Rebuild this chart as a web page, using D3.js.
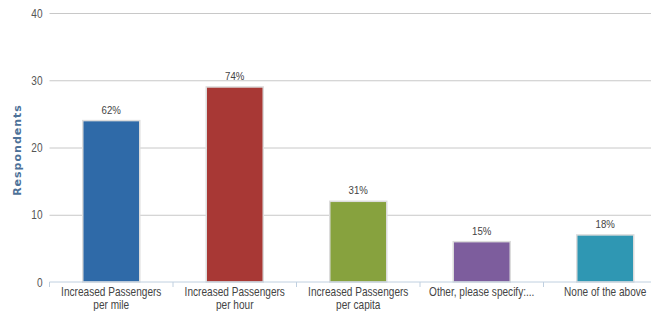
<!DOCTYPE html>
<html><head><meta charset="utf-8">
<script src="https://cdn.jsdelivr.net/npm/d3@7"></script>
<style>body{margin:0;background:#fff;overflow:hidden}svg{display:block}</style>
</head><body><svg id="c" width="651" height="311"></svg>
<script>
const categories = [["Increased Passengers","per mile"],["Increased Passengers","per hour"],["Increased Passengers","per capita"],["Other, please specify:..."],["None of the above"]];
const values = [24, 29, 12, 6, 7];
const percentLabels = ["62%","74%","31%","15%","18%"];
const colors = ["#2f6aa8","#a83835","#87a23e","#7d5d9d","#2f97b3"];
const yTicks = [0,10,20,30,40];

(function(){
const svg = d3.select("#c");
const font = "'Liberation Sans',Arial,sans-serif";
const sx = 0.84;
const mLeft = 49.5, mRight = 667, mTop = 13, mBottom = 282;
const x = d3.scaleBand().domain(d3.range(categories.length)).range([mLeft, mRight]).paddingInner(0).paddingOuter(0);
const y = d3.scaleLinear().domain([0,40]).range([mBottom, mTop]);
const bw = 57;

const ya = svg.append("g").attr("transform",`translate(${mLeft},0)`)
  .call(d3.axisLeft(y).tickValues(yTicks).tickSize(-(651-mLeft)).tickPadding(7));
ya.select(".domain").remove();
ya.selectAll(".tick line").attr("stroke","#c8c8c8").attr("stroke-width",1);
ya.selectAll(".tick text").remove();
ya.selectAll(".tick").append("text")
  .attr("transform",`translate(-7,0) scale(${sx},1)`)
  .attr("dy","0.35em").attr("text-anchor","end")
  .attr("fill","#555").style("font-family",font).style("font-size","12px")
  .text(d=>d);
ya.selectAll(".tick").filter(d=>d===0).select("line").remove();

svg.append("g").selectAll("rect").data(values).join("rect")
  .attr("x",(d,i)=>x(i)+x.bandwidth()/2-bw/2)
  .attr("y",d=>y(d))
  .attr("width",bw)
  .attr("height",d=>y(0)-y(d))
  .attr("fill",(d,i)=>colors[i])
  .attr("stroke","#dcdcdc").attr("stroke-width",1.5);

svg.append("g").selectAll("text").data(values).join("text")
  .attr("transform",(d,i)=>`translate(${x(i)+x.bandwidth()/2},${y(d)-7}) scale(${sx},1)`)
  .attr("text-anchor","middle")
  .attr("fill","#444").style("font-family",font).style("font-size","11.5px")
  .text((d,i)=>percentLabels[i]);

const xa = svg.append("g").attr("transform",`translate(0,${mBottom})`);
xa.append("line").attr("x1",mLeft).attr("x2",651).attr("stroke","#c0d0e0").attr("stroke-width",1);
xa.selectAll("line.t").data(d3.range(categories.length+1)).join("line").attr("class","t")
  .attr("x1",i=>mLeft+i*x.bandwidth()).attr("x2",i=>mLeft+i*x.bandwidth())
  .attr("y1",0).attr("y2",5).attr("stroke","#c0d0e0");
xa.selectAll("text").data(categories).join("text")
  .attr("transform",(d,i)=>`translate(${x(i)+x.bandwidth()/2},0) scale(${sx},1)`)
  .attr("text-anchor","middle")
  .attr("fill","#444").style("font-family",font).style("font-size","12px")
  .each(function(d,i){
    const t = d3.select(this);
    d.forEach((line,j)=>t.append("tspan").attr("x",0).attr("y",14+j*13).text(line));
  });

svg.append("text").attr("transform","translate(21,150) rotate(-90)")
  .attr("text-anchor","middle").attr("fill","#4d7198")
  .style("font-family","'DejaVu Sans',sans-serif").style("font-size","11px").style("font-weight","bold")
  .style("letter-spacing","1px")
  .text("Respondents");
})();
</script></body></html>
